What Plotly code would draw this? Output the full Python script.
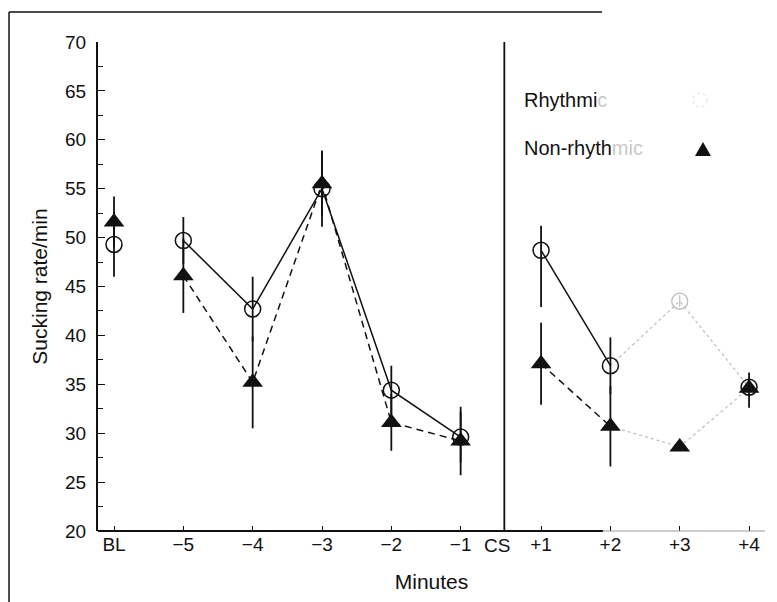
import plotly.graph_objects as go

# ---------------- data ----------------
categories = ["BL", "−5", "−4", "−3", "−2", "−1", "+1", "+2", "+3", "+4"]
rhythmic = [49.3, 49.7, 42.7, 55.0, 34.4, 29.6, 48.7, 36.9, 43.5, 34.7]
rhythmic_err_up = [3.3, 2.4, 3.3, 3.9, 2.5, 2.6, 2.5, 2.9, 0.6, 1.5]
rhythmic_err_down = [3.3, 2.4, 3.3, 3.9, 2.5, 2.6, 5.8, 2.9, 0.6, 2.1]
nonrhythmic = [51.6, 46.1, 35.2, 55.5, 31.1, 29.2, 37.1, 30.7, 28.6, 34.6]
nonrhythmic_err_up = [2.6, 3.8, 4.7, 3.3, 2.9, 3.5, 4.2, 4.1, 0.0, 0.0]
nonrhythmic_err_down = [2.6, 3.8, 4.7, 3.3, 2.9, 3.5, 4.2, 4.1, 0.0, 0.0]
y_ticks = [20, 25, 30, 35, 40, 45, 50, 55, 60, 65, 70]

# layout helpers (positions on the numeric x axis)
GAP = 0.16            # extra space around CS
x_pos = [i + (GAP if i >= 6 else 0) for i in range(len(categories))]
cs_pos = (x_pos[5] + x_pos[6]) / 2 + 0.05

FONT = "Liberation Sans, Arial, Helvetica, sans-serif"
BLACK = "#111111"
FADED = "#bdbdbd"

def pick(arr, idx):
    return [arr[i] for i in idx]

fig = go.Figure()

# --- connecting lines ---
pre = [1, 2, 3, 4, 5]
post_a = [6, 7]
post_b = [7, 8, 9]

fig.add_trace(go.Scatter(x=pick(x_pos, pre), y=pick(rhythmic, pre), mode="lines",
                         line=dict(color=BLACK, width=1.5), hoverinfo="skip", showlegend=False))
fig.add_trace(go.Scatter(x=pick(x_pos, post_a), y=pick(rhythmic, post_a), mode="lines",
                         line=dict(color=BLACK, width=1.5), hoverinfo="skip", showlegend=False))
fig.add_trace(go.Scatter(x=pick(x_pos, post_b), y=pick(rhythmic, post_b), mode="lines",
                         line=dict(color=FADED, width=1.2, dash="dot"), hoverinfo="skip", showlegend=False))

fig.add_trace(go.Scatter(x=pick(x_pos, pre), y=pick(nonrhythmic, pre), mode="lines",
                         line=dict(color=BLACK, width=1.5, dash="7px,5px"), hoverinfo="skip", showlegend=False))
fig.add_trace(go.Scatter(x=pick(x_pos, post_a), y=pick(nonrhythmic, post_a), mode="lines",
                         line=dict(color=BLACK, width=1.5, dash="7px,5px"), hoverinfo="skip", showlegend=False))
fig.add_trace(go.Scatter(x=pick(x_pos, post_b), y=pick(nonrhythmic, post_b), mode="lines",
                         line=dict(color=FADED, width=1.2, dash="dot"), hoverinfo="skip", showlegend=False))

# --- markers with error bars ---
solid_idx = [0, 1, 2, 3, 4, 5, 6, 7, 9]
faded_idx = [8]

fig.add_trace(go.Scatter(
    x=pick(x_pos, solid_idx), y=pick(nonrhythmic, solid_idx), mode="markers", name="Non-rhythmic",
    marker=dict(symbol="triangle-up", size=18, color=BLACK, line=dict(width=0)),
    error_y=dict(type="data", symmetric=False, array=pick(nonrhythmic_err_up, solid_idx),
                 arrayminus=pick(nonrhythmic_err_down, solid_idx), color=BLACK, thickness=1.8, width=0),
    showlegend=False))
fig.add_trace(go.Scatter(
    x=pick(x_pos, faded_idx), y=pick(nonrhythmic, faded_idx), mode="markers",
    marker=dict(symbol="triangle-up", size=18, color=BLACK, line=dict(width=0)),
    showlegend=False))

fig.add_trace(go.Scatter(
    x=pick(x_pos, solid_idx), y=pick(rhythmic, solid_idx), mode="markers", name="Rhythmic",
    marker=dict(symbol="circle-open", size=16, color=BLACK, line=dict(width=1.5)),
    error_y=dict(type="data", symmetric=False, array=pick(rhythmic_err_up, solid_idx),
                 arrayminus=pick(rhythmic_err_down, solid_idx), color=BLACK, thickness=1.8, width=0),
    showlegend=False))
fig.add_trace(go.Scatter(
    x=pick(x_pos, faded_idx), y=pick(rhythmic, faded_idx), mode="markers",
    marker=dict(symbol="circle-open", size=16, color=FADED, line=dict(width=1.3)),
    error_y=dict(type="data", symmetric=False, array=pick(rhythmic_err_up, faded_idx),
                 arrayminus=pick(rhythmic_err_down, faded_idx), color=FADED, thickness=1.2, width=0),
    showlegend=False))

# --- shapes: CS line, axis line, frame, legend symbols ---
shapes = [
    dict(type="line", xref="x", yref="y", x0=cs_pos, x1=cs_pos, y0=20, y1=70,
         line=dict(color=BLACK, width=1.8)),
    dict(type="line", xref="paper", yref="paper", x0=0, x1=0.757, y0=0, y1=0,
         line=dict(color=BLACK, width=2)),
    dict(type="line", xref="paper", yref="paper", x0=0.757, x1=1.0, y0=0, y1=0,
         line=dict(color="#9a9a9a", width=1.2)),
    # frame of the original figure
    dict(type="line", xref="paper", yref="paper", x0=-0.1334, x1=-0.1334, y0=1.0613, y1=-0.145,
         line=dict(color=BLACK, width=1.5)),
    dict(type="line", xref="paper", yref="paper", x0=-0.1334, x1=0.7556, y0=1.0613, y1=1.0613,
         line=dict(color=BLACK, width=1.5)),
    # legend symbols
    dict(type="circle", xref="paper", yref="paper", xsizemode="pixel", ysizemode="pixel",
         xanchor=0.9025, yanchor=0.881, x0=-7, x1=7, y0=-7, y1=7,
         line=dict(color="#dddddd", width=1, dash="dot")),
    dict(type="path", xref="paper", yref="paper", xsizemode="pixel", ysizemode="pixel",
         xanchor=0.907, yanchor=0.779, path="M -8 -6 L 8 -6 L 0 8 Z",
         fillcolor=BLACK, line=dict(color=BLACK, width=0)),
]

annotations = [
    dict(xref="paper", yref="paper", x=0.636, y=0.881, xanchor="left", yanchor="middle",
         text="Rhythmi<span style='color:#c8c8c8'>c</span>", showarrow=False,
         font=dict(family=FONT, size=20, color=BLACK)),
    dict(xref="paper", yref="paper", x=0.636, y=0.783, xanchor="left", yanchor="middle",
         text="Non-rhyth<span style='color:#c8c8c8'>mic</span>", showarrow=False,
         font=dict(family=FONT, size=20, color=BLACK)),
    # CS label, just left of the CS line
    dict(xref="x", yref="paper", x=cs_pos - 0.1, y=-0.03, xanchor="center", yanchor="middle",
         text="CS", showarrow=False, font=dict(family=FONT, size=19, color=BLACK)),
]

# the page body adds an 8px offset, so the figure is drawn 8px smaller
fig.update_layout(
    width=769, height=594,
    margin=dict(l=90, r=12, t=34, b=71),
    paper_bgcolor="white", plot_bgcolor="white",
    font=dict(family=FONT, size=19, color=BLACK),
    shapes=shapes, annotations=annotations, showlegend=False,
    xaxis=dict(
        range=[-0.231, 9.39], showgrid=False, zeroline=False, showline=False,
        automargin=False,
        tickmode="array", tickvals=x_pos,
        ticktext=categories,
        ticks="inside", ticklen=5, tickwidth=1.2, tickcolor=BLACK,
        tickfont=dict(family=FONT, size=19, color=BLACK),
        title=dict(text="Minutes", font=dict(family=FONT, size=21, color=BLACK), standoff=20),
    ),
    yaxis=dict(
        range=[20, 70], showgrid=False, zeroline=False,
        automargin=False,
        showline=True, linecolor=BLACK, linewidth=2,
        tickmode="array", tickvals=y_ticks,
        ticks="inside", ticklen=7, tickwidth=1.2, tickcolor=BLACK,
        minor=dict(dtick=2.5, ticks="inside", ticklen=5, tickwidth=1, tickcolor=BLACK),
        ticklabelstandoff=6,
        tickfont=dict(family=FONT, size=19, color=BLACK),
        title=dict(text="Sucking rate/min", font=dict(family=FONT, size=21, color=BLACK), standoff=12),
    ),
)

fig.write_html("out.html")
